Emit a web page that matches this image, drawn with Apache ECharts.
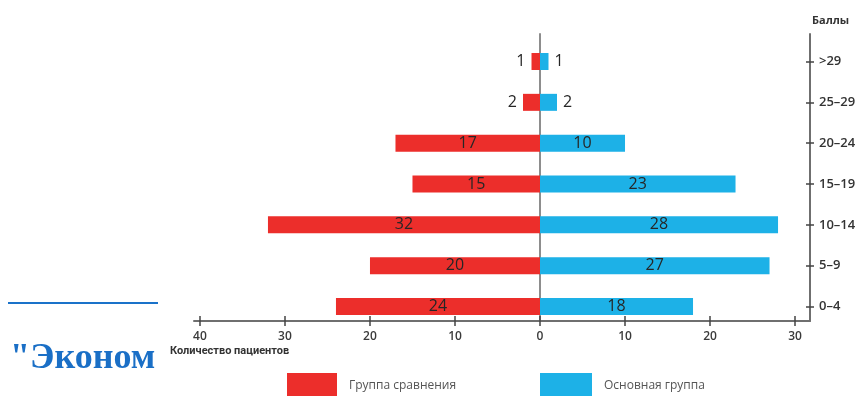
<!DOCTYPE html>
<html>
<head>
<meta charset="utf-8">
<script src="https://cdn.jsdelivr.net/npm/echarts@6/dist/echarts.min.js"></script>
<style>
  html, body { margin: 0; padding: 0; background: #ffffff; }
  #chart { width: 862px; height: 396px; }
</style>
</head>
<body>
<div id="chart"></div>
<script>
// Score groups (bottom to top) and number of patients in each group
const categories = ['0–4', '5–9', '10–14', '15–19', '20–24', '25–29', '>29'];
const comparisonGroup = [24, 20, 32, 15, 17, 2, 1];
const mainGroup = [18, 27, 28, 23, 10, 2, 1];
const seriesNames = ['Группа сравнения', 'Основная группа'];
const xTickValues = [-40, -30, -20, -10, 0, 10, 20, 30];
const axisTitleX = 'Количество пациентов';
const axisTitleY = 'Баллы';

const RED = '#ec2e2b';
const BLUE = '#1db1e7';
const AXIS_GREY = '#6f6f6f';
const X_MIN = -40.7;
const X_MAX = 31.76;
const FONT = '"Open Sans", sans-serif';

// Small bars carry their number outside the bar end
function barItems(values, sign, outsidePos) {
  return values.map(v => ({
    value: sign * v,
    label: { position: v >= 5 ? 'inside' : outsidePos }
  }));
}

const barLabel = {
  show: true,
  color: '#262626',
  fontFamily: FONT,
  fontSize: 16,
  fontWeight: 500,
  distance: 6,
  formatter: p => Math.abs(p.value)
};

const chart = echarts.init(document.getElementById('chart'), null, { renderer: 'canvas' });

chart.setOption({
  animation: false,
  backgroundColor: '#ffffff',
  grid: [
    // bars
    { left: 194, right: 52, top: 41.1, bottom: 69.1 },
    // frame: x axis, right axis and zero line
    { left: 194, right: 52, top: 34, bottom: 75 }
  ],
  xAxis: [
    { gridIndex: 0, type: 'value', min: X_MIN, max: X_MAX, show: false },
    {
      gridIndex: 1, type: 'value', min: X_MIN, max: X_MAX, position: 'bottom',
      axisLine: { show: true, onZero: false, lineStyle: { color: AXIS_GREY, width: 2 } },
      axisTick: { show: true, inside: false, length: 5, customValues: xTickValues,
                  lineStyle: { color: '#444', width: 1.5 } },
      axisLabel: { show: true, customValues: xTickValues, margin: 10,
                   formatter: v => Math.abs(v),
                   color: '#3a3a3a', fontFamily: FONT, fontSize: 12, fontWeight: 600 },
      splitLine: { show: false }
    },
    {
      gridIndex: 1, type: 'value', min: X_MIN, max: X_MAX, position: 'bottom',
      axisLine: { show: false, onZero: false },
      axisTick: { show: true, inside: true, length: 5, customValues: xTickValues,
                  lineStyle: { color: '#444', width: 1.5 } },
      axisLabel: { show: false },
      splitLine: { show: false }
    }
  ],
  yAxis: [
    {
      gridIndex: 0, type: 'category', data: categories, position: 'right',
      axisLine: { show: false, onZero: false },
      axisTick: { show: true, alignWithLabel: true, inside: false, length: 4,
                  lineStyle: { color: '#444', width: 1.5 } },
      axisLabel: { show: true, margin: 9, color: '#333', fontFamily: FONT,
                   fontSize: 13, fontWeight: 600 },
      splitLine: { show: false }
    },
    {
      gridIndex: 0, type: 'category', data: categories, position: 'right',
      axisLine: { show: false, onZero: false },
      axisTick: { show: true, alignWithLabel: true, inside: true, length: 4,
                  lineStyle: { color: '#444', width: 1.5 } },
      axisLabel: { show: false },
      splitLine: { show: false }
    },
    {
      gridIndex: 1, type: 'value', min: 0, max: 1, position: 'right',
      name: axisTitleY, nameLocation: 'end', nameGap: 8,
      nameTextStyle: { align: 'left', color: '#333', fontFamily: FONT,
                       fontSize: 11, fontWeight: 'bold', padding: [0, 0, 0, 2] },
      axisLine: { show: true, onZero: false, lineStyle: { color: AXIS_GREY, width: 2 } },
      axisTick: { show: false },
      axisLabel: { show: false },
      splitLine: { show: false }
    },
    {
      // vertical line through zero patients
      gridIndex: 1, type: 'value', min: 0, max: 1, position: 'left',
      axisLine: { show: true, onZero: true, lineStyle: { color: '#8d8d8d', width: 2 } },
      axisTick: { show: false },
      axisLabel: { show: false },
      splitLine: { show: false }
    }
  ],
  legend: [
    {
      data: [seriesNames[0]], left: 287, top: 373, padding: 0, icon: 'rect',
      itemWidth: 50, itemHeight: 26, selectedMode: false,
      textStyle: { color: '#555', fontFamily: FONT, fontSize: 12, padding: [0, 0, 0, 7] }
    },
    {
      data: [seriesNames[1]], left: 540, top: 373, padding: 0, icon: 'rect',
      itemWidth: 52, itemHeight: 26, selectedMode: false,
      textStyle: { color: '#555', fontFamily: FONT, fontSize: 12, padding: [0, 0, 0, 7] }
    }
  ],
  series: [
    {
      name: seriesNames[0], type: 'bar', xAxisIndex: 0, yAxisIndex: 0,
      barWidth: 17, barGap: '-100%',
      itemStyle: { color: RED },
      label: barLabel,
      data: barItems(comparisonGroup, -1, 'left')
    },
    {
      name: seriesNames[1], type: 'bar', xAxisIndex: 0, yAxisIndex: 0,
      barWidth: 17, barGap: '-100%',
      itemStyle: { color: BLUE },
      label: barLabel,
      data: barItems(mainGroup, 1, 'right')
    }
  ],
  graphic: [
    {
      type: 'text', left: 170, top: 346,
      style: { text: axisTitleX, fill: '#333', font: 'bold 11px Roboto, sans-serif' }
    },
    {
      type: 'line', shape: { x1: 8, y1: 303, x2: 158, y2: 303 },
      style: { stroke: '#1a72c9', lineWidth: 2 }
    },
    {
      type: 'text', left: 10, top: 341,
      style: { text: '"Эконом', fill: '#1a6fc6',
               font: 'bold 36px "Liberation Serif", "Times New Roman", serif' }
    }
  ]
});
</script>
</body>
</html>
